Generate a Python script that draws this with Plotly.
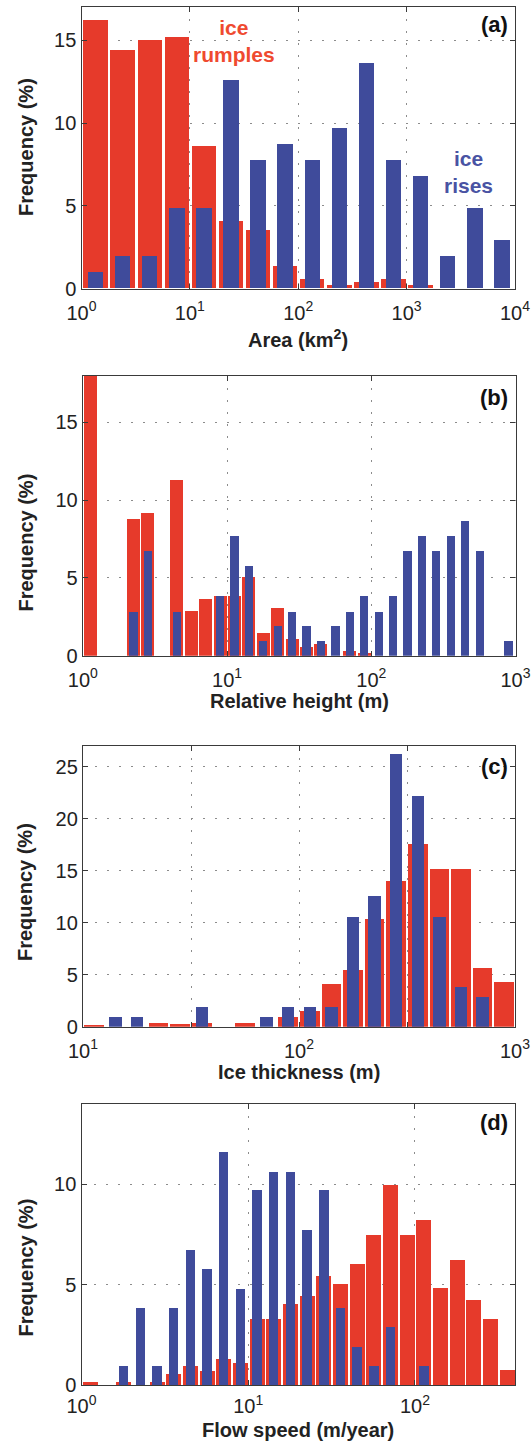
import plotly.graph_objects as go

W, H = 531, 1443

# ---------------- data (bin centres given as log10 of the variable) ----------------
# (a) Area (km^2), bins 0.25 decade wide
area_log_centers = [0.125, 0.375, 0.625, 0.875, 1.125, 1.375, 1.625, 1.875,
                    2.125, 2.375, 2.625, 2.875, 3.125, 3.375, 3.625, 3.875]
area_rumples = [16.2, 14.4, 15.0, 15.2, 8.6, 4.1, 3.5, 1.35,
                0.55, 0.2, 0.36, 0.55, 0.2, 0, 0, 0]
area_rises = [0.97, 1.94, 1.94, 4.85, 4.85, 12.6, 7.75, 8.7,
              7.75, 9.7, 13.6, 7.75, 6.8, 1.94, 4.85, 2.9]
area_bin = 0.25

# (b) Relative height (m), bins 0.1 decade wide
height_log_centers = [0.05, 0.15, 0.25, 0.35, 0.45, 0.55, 0.65, 0.75, 0.85, 0.95,
                      1.05, 1.15, 1.25, 1.35, 1.45, 1.55, 1.65, 1.75, 1.85, 1.95,
                      2.05, 2.15, 2.25, 2.35, 2.45, 2.55, 2.65, 2.75, 2.85, 2.95]
height_rumples = [19.0, 0, 0, 8.8, 9.2, 0, 11.3, 2.9, 3.65, 3.85,
                  3.85, 5.05, 1.5, 3.1, 1.1, 0.55, 0.8, 0, 0.35, 0.2,
                  0, 0, 0, 0, 0, 0, 0, 0, 0, 0]
height_rises = [0, 0, 0, 2.85, 6.75, 0, 2.85, 0, 0, 3.85,
                7.7, 5.8, 0.95, 1.9, 2.85, 1.9, 0.95, 1.9, 2.85, 3.85,
                2.85, 3.85, 6.75, 7.7, 6.75, 7.7, 8.7, 6.75, 0, 0.95]
height_bin = 0.1

# (c) Ice thickness (m), bins 0.1 decade wide
thick_log_centers = [1.05, 1.15, 1.25, 1.35, 1.45, 1.55, 1.65, 1.75, 1.85, 1.95,
                     2.05, 2.15, 2.25, 2.35, 2.45, 2.55, 2.65, 2.75, 2.85, 2.95]
thick_rumples = [0.2, 0, 0, 0.35, 0.25, 0.35, 0, 0.35, 0, 0.95,
                 1.5, 4.1, 5.5, 10.4, 14.0, 17.6, 15.2, 15.2, 5.65, 4.3]
thick_rises = [0, 0.95, 0.95, 0, 0, 1.9, 0, 0, 0.95, 1.9,
               1.9, 1.9, 10.6, 12.6, 26.2, 22.2, 10.6, 3.8, 2.9, 0]
thick_bin = 0.1

# (d) Flow speed (m/year), bins 0.1 decade wide
speed_log_centers = [0.05, 0.15, 0.25, 0.35, 0.45, 0.55, 0.65, 0.75, 0.85, 0.95,
                     1.05, 1.15, 1.25, 1.35, 1.45, 1.55, 1.65, 1.75, 1.85, 1.95,
                     2.05, 2.15, 2.25, 2.35, 2.45, 2.55]
speed_rumples = [0.15, 0, 0.15, 0, 0.15, 0.55, 0.95, 0.7, 1.3, 1.1,
                 3.3, 3.3, 4.05, 4.45, 5.45, 5.05, 6.05, 7.45, 9.95, 7.45,
                 8.2, 4.85, 6.25, 4.25, 3.3, 0.75]
speed_rises = [0, 0, 0.95, 3.85, 0.95, 3.85, 6.75, 5.8, 11.6, 4.8,
               9.7, 10.6, 10.6, 7.7, 9.7, 3.85, 1.9, 0.95, 2.9, 0,
               0.95, 0, 0, 0, 0, 0]
speed_bin = 0.1

# axis labels / ticks
x_titles = ["Area (km<sup>2</sup>)", "Relative height (m)", "Ice thickness (m)", "Flow speed (m/year)"]
y_title = "Frequency (%)"
panel_labels = ["(a)", "(b)", "(c)", "(d)"]
x_tickvals = [[1, 10, 100, 1000, 10000],
              [1, 10, 100, 1000],
              [10, 31.6228, 100, 316.228, 1000],
              [1, 10, 100]]
x_ticktext = [["10<sup>0</sup>", "10<sup>1</sup>", "10<sup>2</sup>", "10<sup>3</sup>", "10<sup>4</sup>"],
              ["10<sup>0</sup>", "10<sup>1</sup>", "10<sup>2</sup>", "10<sup>3</sup>"],
              ["10<sup>1</sup>", " ", "10<sup>2</sup>", " ", "10<sup>3</sup>"],
              ["10<sup>0</sup>", "10<sup>1</sup>", "10<sup>2</sup>"]]
x_ranges = [[0, 4], [0, 3], [1, 3], [0, 2.6]]
y_ranges = [[0, 17], [0, 18], [0, 27], [0, 14]]
y_tickvals = [[0, 5, 10, 15], [0, 5, 10, 15], [0, 5, 10, 15, 20, 25], [0, 5, 10]]

# ---------------- styling / layout ----------------
RED = "#e63a2b"
BLUE = "#3f4b9b"
RED_TXT = "#ef4a30"
BLUE_TXT = "#4953a3"
FONT = "Liberation Sans, Arial, Helvetica, sans-serif"
TXT = "#222222"
FRAME = "#3a3a3a"
RED_FRAC = 0.9
BLUE_FRAC = 0.57

# plot boxes in pixels: (left, right, top, bottom)
boxes = [(81.5, 515.0, 7.3, 288.7),
         (82.8, 515.5, 375.7, 655.7),
         (83.0, 515.0, 745.7, 1026.7),
         (81.5, 515.0, 1104.0, 1385.0)]
xtitle_y = [338, 701, 1072, 1429.5]
ytitle_y = [147.5, 543, 892.5, 1268]
plabel_y = [24, 397.5, 766, 1122.5]
tick_standoff = [6, 6, 6, 3]

panels = [
    (area_log_centers, area_rumples, area_rises, area_bin),
    (height_log_centers, height_rumples, height_rises, height_bin),
    (thick_log_centers, thick_rumples, thick_rises, thick_bin),
    (speed_log_centers, speed_rumples, speed_rises, speed_bin),
]


def bar_trace(centers, vals, binw, frac, color, xa, ya, name):
    lo = [10 ** (c - binw * frac / 2) for c in centers]
    hi = [10 ** (c + binw * frac / 2) for c in centers]
    xs = [(a + b) / 2 for a, b in zip(lo, hi)]
    ws = [b - a for a, b in zip(lo, hi)]
    return go.Bar(x=xs, y=vals, width=ws, name=name,
                  marker=dict(color=color, line=dict(width=0)),
                  xaxis=xa, yaxis=ya, showlegend=False,
                  customdata=[10 ** c for c in centers],
                  hovertemplate="%{customdata:.3g}: %{y}%<extra>" + name + "</extra>")


fig = go.Figure()
layout = {}
annotations = []
for i, (centers, rump, rises, binw) in enumerate(panels):
    n = "" if i == 0 else str(i + 1)
    xa, ya = "x" + n, "y" + n
    fig.add_trace(bar_trace(centers, rump, binw, RED_FRAC, RED, xa, ya, "ice rumples"))
    fig.add_trace(bar_trace(centers, rises, binw, BLUE_FRAC, BLUE, xa, ya, "ice rises"))
    l, r, t, b = boxes[i]
    common = dict(showgrid=True, gridcolor="#8c8c8c", gridwidth=1, griddash="2px,10px",
                  ticks="inside", ticklen=5, tickwidth=1, tickcolor=FRAME,
                  showline=True, linecolor=FRAME, linewidth=1.3, mirror="ticks",
                  zeroline=False, automargin=False,
                  tickfont=dict(family=FONT, size=20, color=TXT))
    layout["xaxis" + n] = dict(common, type="log", range=x_ranges[i],
                               tickmode="array", tickvals=x_tickvals[i], ticktext=x_ticktext[i],
                               domain=[l / W, r / W], anchor=ya,
                               ticklabelstandoff=tick_standoff[i])
    layout["yaxis" + n] = dict(common, range=y_ranges[i], tickmode="array",
                               tickvals=y_tickvals[i], ticktext=[str(v) for v in y_tickvals[i]],
                               domain=[1 - b / H, 1 - t / H], anchor=xa)
    annotations.append(dict(text="<b>" + x_titles[i] + "</b>", xref="paper", yref="paper",
                            x=((l + r) / 2) / W, y=1 - xtitle_y[i] / H, xanchor="center",
                            yanchor="middle", showarrow=False,
                            font=dict(family=FONT, size=20, color=TXT)))
    annotations.append(dict(text="<b>" + y_title + "</b>", xref="paper", yref="paper",
                            x=25.5 / W, y=1 - ytitle_y[i] / H, xanchor="center",
                            yanchor="middle", textangle=-90, showarrow=False,
                            font=dict(family=FONT, size=20, color=TXT)))
    annotations.append(dict(text="<b>" + panel_labels[i] + "</b>", xref="paper", yref="paper",
                            x=510 / W, y=1 - plabel_y[i] / H, xanchor="right",
                            yanchor="middle", showarrow=False,
                            font=dict(family=FONT, size=22, color="#111111")))

annotations.append(dict(text="<b>ice<br>rumples</b>", xref="paper", yref="paper",
                        x=234 / W, y=1 - 40.5 / H, xanchor="center", yanchor="middle",
                        showarrow=False, align="center",
                        font=dict(family=FONT, size=21, color=RED_TXT)))
annotations.append(dict(text="<b>ice<br>rises</b>", xref="paper", yref="paper",
                        x=468 / W, y=1 - 171.5 / H, xanchor="center", yanchor="middle",
                        showarrow=False, align="center",
                        font=dict(family=FONT, size=21, color=BLUE_TXT)))

fig.update_layout(template="none", width=W, height=H, margin=dict(l=0, r=0, t=0, b=0),
                  paper_bgcolor="white", plot_bgcolor="white",
                  barmode="overlay", bargap=0, annotations=annotations,
                  font=dict(family=FONT, color=TXT), **layout)

# remove the browser's default 8px body margin so the figure fills the window exactly
fig.write_html("out.html", config={"displayModeBar": False},
               post_script="document.body.style.margin='0px';document.body.style.overflow='hidden';")
